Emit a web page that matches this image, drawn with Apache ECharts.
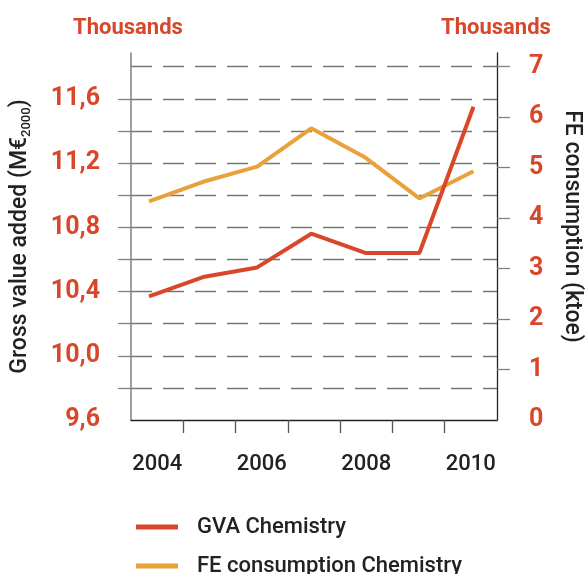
<!DOCTYPE html>
<html><head><meta charset="utf-8">
<script src="https://cdn.jsdelivr.net/npm/echarts@6/dist/echarts.min.js"></script>
<style>html,body{margin:0;padding:0;background:#fff}#c{width:585px;height:574px}</style>
</head><body><div id="c"></div>
<script>
// ---- data ----
const years = ['2004', '2005', '2006', '2007', '2008', '2009', '2010'];
const yearNums = [2004, 2005, 2006, 2007, 2008, 2009, 2010];
const gvaChemistry = [10.37, 10.49, 10.55, 10.76, 10.64, 10.64, 11.55];
const feConsumptionChemistry = [4.33, 4.72, 5.02, 5.78, 5.20, 4.39, 4.93];
const leftTickValues = [9.8, 10.0, 10.2, 10.4, 10.6, 10.8, 11.0, 11.2, 11.4, 11.6];
const leftLabelValues = [9.6, 10.0, 10.4, 10.8, 11.2, 11.6];
const rightTickValues = [1, 2, 3, 4, 5, 6, 7];
const rightLabelValues = [0, 1, 2, 3, 4, 5, 6, 7];
const boundaryTickValues = [1, 2, 3, 4, 5, 6];

const RED = '#d9472b';
const ORANGE = '#e9a23b';
const DARK = '#222222';
const GRAY = '#808080';
const FONT = 'Roboto';

const chart = echarts.init(document.getElementById('c'), null, {renderer: 'canvas'});
const legendText = {fontSize: 22, fontWeight: 500, color: DARK, fontFamily: FONT, padding: [0, 0, 0, 14], lineHeight: 24};
chart.setOption({
  animation: false,
  backgroundColor: '#ffffff',
  textStyle: {fontFamily: FONT},
  grid: {left: 131, right: 88, top: 53, bottom: 154, containLabel: false, outerBoundsMode: 'none'},
  graphic: [
    {type: 'text', x: 128, y: 28, style: {text: 'Thousands', fill: RED, font: 'bold 22px ' + FONT, textAlign: 'center', textVerticalAlign: 'middle'}},
    {type: 'text', x: 496, y: 28, style: {text: 'Thousands', fill: RED, font: 'bold 22px ' + FONT, textAlign: 'center', textVerticalAlign: 'middle'}}
  ],
  legend: [
    {
      orient: 'vertical', left: 131, top: 510,
      icon: 'rect', itemWidth: 42, itemHeight: 5,
      textStyle: legendText, data: ['GVA Chemistry']
    },
    {
      orient: 'vertical', left: 131, top: 549,
      icon: 'rect', itemWidth: 42, itemHeight: 5,
      textStyle: legendText, data: ['FE consumption Chemistry']
    }
  ],
  xAxis: [
    {
      type: 'category', data: years, position: 'bottom', boundaryGap: true,
      axisLine: {show: true, lineStyle: {color: DARK, width: 1.3}},
      axisTick: {show: false},
      axisLabel: {interval: 1, fontSize: 22, fontWeight: 500, color: DARK, margin: 33, fontFamily: FONT},
      splitLine: {show: false}
    },
    {
      type: 'value', position: 'bottom', min: 0, max: 7, interval: 1,
      axisLine: {show: false},
      axisTick: {show: true, customValues: boundaryTickValues, length: 13, lineStyle: {color: '#555', width: 1.3}},
      axisLabel: {show: false},
      splitLine: {show: false}
    },
    {
      type: 'value', position: 'bottom', show: false, min: 2003.667, max: 2010.435
    }
  ],
  yAxis: [
    {
      type: 'value', position: 'left', min: 9.6, max: 11.885, interval: 0.2,
      axisLine: {show: true, lineStyle: {color: GRAY, width: 1.5}},
      axisTick: {show: true, customValues: leftTickValues, length: 13, lineStyle: {color: GRAY, width: 1.3}},
      axisLabel: {
        customValues: leftLabelValues, margin: 31, color: RED, fontSize: 25, fontWeight: 'bold', fontFamily: FONT,
        formatter: v => Number(v).toFixed(1).replace('.', ',')
      },
      splitLine: {show: false},
      name: '{a|Gross value added (M€}{b|2000}{a|)}',
      nameLocation: 'middle', nameRotate: 90, nameGap: 98,
      nameTextStyle: {
        color: DARK, fontFamily: FONT,
        rich: {
          a: {fontSize: 23, fontWeight: 500, color: DARK, fontFamily: FONT, lineHeight: 26},
          b: {fontSize: 13, fontWeight: 500, color: DARK, fontFamily: FONT, lineHeight: 26, verticalAlign: 'bottom', padding: [10, 0, 0, 0]}
        }
      }
    },
    {
      type: 'value', position: 'right', min: 0, max: 7.272, interval: 1,
      axisLine: {show: true, lineStyle: {color: DARK, width: 1.3}},
      axisTick: {show: true, customValues: rightTickValues, length: 13, lineStyle: {color: GRAY, width: 1.3}},
      axisLabel: {customValues: rightLabelValues, margin: 32, color: RED, fontSize: 25, fontWeight: 'bold', fontFamily: FONT},
      splitLine: {show: false},
      name: 'FE consumption (ktoe)',
      nameLocation: 'middle', nameRotate: -90, nameGap: 63,
      nameTextStyle: {color: DARK, fontSize: 23, fontWeight: 500, fontFamily: FONT, padding: [0, 20, 0, 0]}
    },
    {
      type: 'value', position: 'left', min: 9.6, max: 11.885, interval: 0.2,
      axisLine: {show: false}, axisTick: {show: false}, axisLabel: {show: false},
      splitLine: {show: true, showMinLine: false, showMaxLine: false, lineStyle: {color: '#777', width: 1.3, type: [21, 11]}}
    }
  ],
  series: [
    {
      name: 'GVA Chemistry', type: 'line', xAxisIndex: 2, yAxisIndex: 0,
      data: gvaChemistry.map((v, i) => [yearNums[i], v]),
      symbol: 'none', lineStyle: {color: RED, width: 4}, itemStyle: {color: RED}, z: 4
    },
    {
      name: 'FE consumption Chemistry', type: 'line', xAxisIndex: 2, yAxisIndex: 1,
      data: feConsumptionChemistry.map((v, i) => [yearNums[i], v]),
      symbol: 'none', lineStyle: {color: ORANGE, width: 4}, itemStyle: {color: ORANGE}, z: 3
    }
  ]
});
</script>
</body></html>
